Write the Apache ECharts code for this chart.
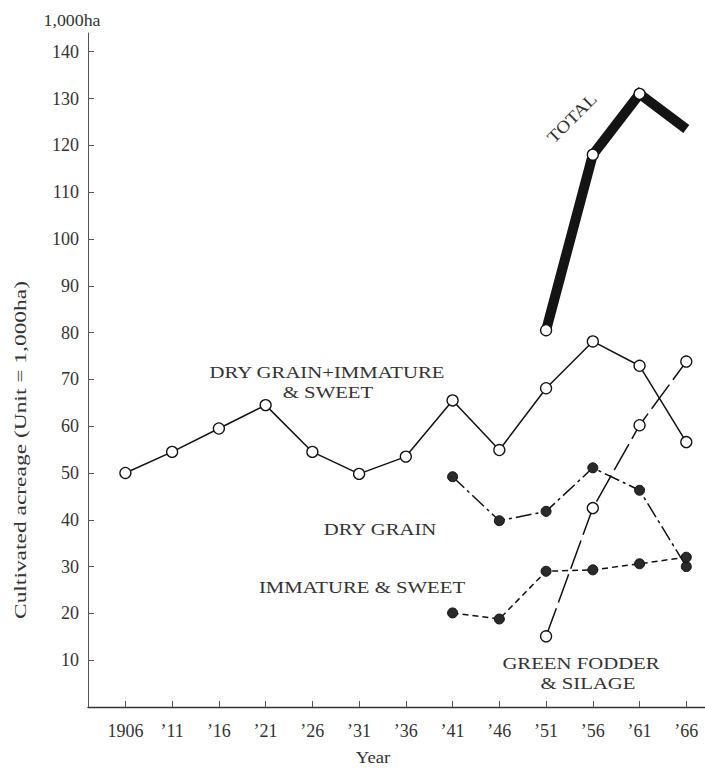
<!DOCTYPE html>
<html>
<head>
<meta charset="utf-8">
<script src="https://cdn.jsdelivr.net/npm/echarts@6/dist/echarts.min.js"></script>
<style>
  html, body { margin: 0; padding: 0; background: #fff; }
  #chart { width: 705px; height: 770px; }
</style>
</head>
<body>
<div id="chart"></div>
<script>
const years = [1906, 1911, 1916, 1921, 1926, 1931, 1936, 1941, 1946, 1951, 1956, 1961, 1966];
const tickLabels = ["1906", "\u201911", "\u201916", "\u201921", "\u201926", "\u201931", "\u201936",
  "\u201941", "\u201946", "\u201951", "\u201956", "\u201961", "\u201966"];
const yTicks = [10, 20, 30, 40, 50, 60, 70, 80, 90, 100, 110, 120, 130, 140];

// values in 1,000 ha, null = not recorded
const totalArea = [null, null, null, null, null, null, null, null, null, 80.5, 118, 131, 123.5];
const dryPlusImmature = [50, 54.5, 59.5, 64.5, 54.5, 49.8, 53.5, 65.5, 54.9, 68.1, 78.1, 72.9, 56.6];
const dryGrain = [null, null, null, null, null, null, null, 49.2, 39.8, 41.8, 51.1, 46.3, 30.0];
const immatureSweet = [null, null, null, null, null, null, null, 20.1, 18.8, 29.0, 29.3, 30.6, 32.0];
const greenFodder = [null, null, null, null, null, null, null, null, null, 15.1, 42.5, 60.2, 73.8];

const FONT = "Liberation Serif";
const INK = "#111";

function pairs(vals) {
  return years.map((y, i) => [y, vals[i]]).filter(p => p[1] !== null);
}

const chart = echarts.init(document.getElementById("chart"), null, { renderer: "svg" });

const openDot = { color: "#fff", borderColor: INK, borderWidth: 1.3 };
const fullDot = { color: "#2a2a2a", borderColor: "#111", borderWidth: 1 };

const totalData = pairs(totalArea).map((p, i, arr) =>
  i === arr.length - 1 ? { value: p, symbol: "none" } : p
);

function label(text, x, y, opts) {
  return Object.assign({
    type: "text",
    x: x,
    y: y,
    scaleX: 1.22,
    style: {
      text: text,
      font: "17px '" + FONT + "'",
      fill: "#333",
      textAlign: "center",
      textVerticalAlign: "middle"
    }
  }, opts || {});
}

const option = {
  animation: false,
  backgroundColor: "#fff",
  grid: { left: 88, right: 0, top: 33, bottom: 63 },
  xAxis: {
    type: "value",
    min: 1902,
    max: 1968,
    splitLine: { show: false },
    axisLine: { lineStyle: { color: "#333", width: 1.3 } },
    axisTick: { inside: true, length: 6, customValues: years, lineStyle: { color: "#555" } },
    axisLabel: {
      customValues: years,
      margin: 15,
      color: "#333",
      fontFamily: FONT,
      fontSize: 18,
      formatter: v => tickLabels[years.indexOf(v)]
    }
  },
  yAxis: {
    type: "value",
    min: 0,
    max: 144,
    splitLine: { show: false },
    axisLine: { show: true, lineStyle: { color: "#555", width: 1 } },
    axisTick: { inside: true, length: 6, customValues: yTicks, lineStyle: { color: "#555" } },
    axisLabel: {
      customValues: yTicks,
      margin: 9,
      color: "#333",
      fontFamily: FONT,
      fontSize: 18
    }
  },
  series: [
    {
      name: "DRY GRAIN+IMMATURE & SWEET",
      type: "line",
      data: pairs(dryPlusImmature),
      symbol: "circle",
      symbolSize: 11,
      lineStyle: { color: INK, width: 1.5 },
      itemStyle: openDot,
      z: 3
    },
    {
      name: "DRY GRAIN",
      type: "line",
      data: pairs(dryGrain),
      symbol: "circle",
      symbolSize: 10,
      lineStyle: { color: INK, width: 1.5, type: [16, 4, 3, 4] },
      itemStyle: fullDot,
      z: 3
    },
    {
      name: "IMMATURE & SWEET",
      type: "line",
      data: pairs(immatureSweet),
      symbol: "circle",
      symbolSize: 10,
      lineStyle: { color: INK, width: 1.5, type: [6, 4] },
      itemStyle: fullDot,
      z: 3
    },
    {
      name: "GREEN FODDER & SILAGE",
      type: "line",
      data: pairs(greenFodder),
      symbol: "circle",
      symbolSize: 11,
      lineStyle: { color: INK, width: 1.5, type: [30, 6] },
      itemStyle: openDot,
      z: 2
    },
    {
      name: "TOTAL",
      type: "line",
      data: totalData,
      symbol: "circle",
      symbolSize: 11,
      lineStyle: { color: "#141414", width: 10, cap: "butt", join: "miter" },
      itemStyle: openDot,
      z: 4
    }
  ],
  graphic: [
    label("1,000ha", 72, 20, { scaleX: 1.05 }),
    label("Cultivated acreage (Unit = 1,000ha)", 20, 450, { rotation: Math.PI / 2, scaleX: 1.38 }),
    label("Year", 373, 757, { scaleX: 1.1 }),
    label("TOTAL", 572, 118, { rotation: Math.PI / 4, scaleX: 1.15 }),
    label("DRY GRAIN+IMMATURE", 327, 372),
    label("& SWEET", 328, 392),
    label("DRY GRAIN", 380, 529),
    label("IMMATURE & SWEET", 362, 587),
    label("GREEN FODDER", 581, 663),
    label("& SILAGE", 588, 683)
  ]
};

chart.setOption(option);
</script>
</body>
</html>
